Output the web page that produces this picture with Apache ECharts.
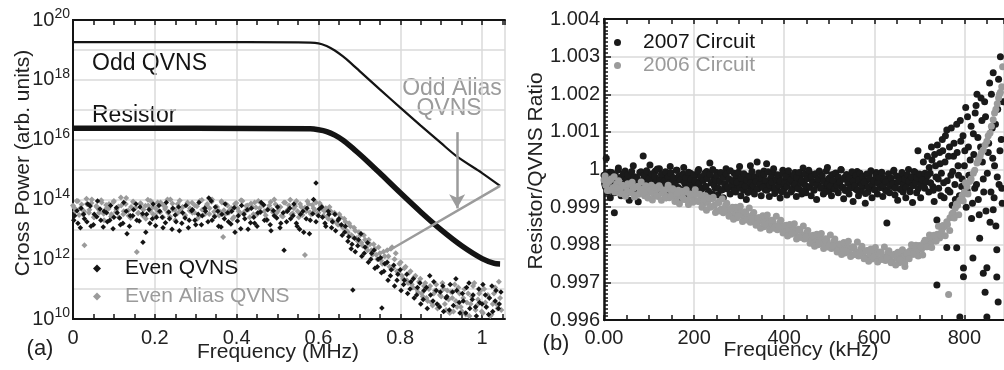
<!DOCTYPE html>
<html><head><meta charset="utf-8">
<script src="https://cdn.jsdelivr.net/npm/echarts@6/dist/echarts.min.js"></script>
<style>html,body{margin:0;padding:0;background:#fff}#c{width:1004px;height:370px}</style>
</head><body><div id="c"></div>
<script>
const FONT = '"Liberation Sans", Arial, Helvetica, sans-serif';
const BLACK = '#141414';
const GREY = '#9b9b9b';

// ---- Panel (a): frequency in MHz, power as log10 exponent ----
const oddQVNS = [[0,19.26],[0.3,19.26],[0.55,19.25],[0.6,19.22],[0.62,19.13],[0.64,18.98],[0.66,18.78],[0.68,18.55],[0.70,18.3],[0.75,17.68],[0.8,17.07],[0.85,16.47],[0.9,15.88],[0.94,15.42],[1.0,14.88],[1.044,14.45]];
const resistor = [[0,16.38],[0.3,16.38],[0.58,16.36],[0.6,16.33],[0.62,16.27],[0.64,16.15],[0.66,15.98],[0.68,15.76],[0.70,15.52],[0.72,15.27],[0.75,14.88],[0.8,14.22],[0.85,13.58],[0.9,12.98],[0.95,12.45],[1.0,12.02],[1.03,11.86],[1.044,11.84]];
const oddAlias = [[0.77,12.3],[0.786,12.4],[1.044,14.45]];
const aliasArrow = [[0.939,16.25],[0.939,13.7]];
const evenQVNS = [[0.004,13.45],[0.012,13.2],[0.020,13.7],[0.028,13.35],[0.036,13.85],[0.044,13.1],[0.052,13.5],[0.060,13.95],[0.068,13.3],[0.076,13.6],[0.084,13.25],[0.092,13.8],[0.100,13.4],[0.108,13.55],[0.116,13.15],[0.124,13.9],[0.132,12.85],[0.140,13.45],[0.148,13.65],[0.156,13.3],[0.164,13.75],[0.171,12.57],[0.180,13.5],[0.188,13.2],[0.196,13.85],[0.204,13.4],[0.212,13.6],[0.220,13.05],[0.228,13.9],[0.236,13.35],[0.244,13.7],[0.252,13.25],[0.260,12.95],[0.268,13.55],[0.276,13.8],[0.284,13.3],[0.292,13.65],[0.300,13.15],[0.308,13.9],[0.316,13.45],[0.324,13.6],[0.332,14.05],[0.340,13.3],[0.348,13.75],[0.356,13.1],[0.364,13.5],[0.372,13.85],[0.380,13.25],[0.388,13.6],[0.396,12.9],[0.404,13.45],[0.412,13.8],[0.420,13.35],[0.428,13.0],[0.436,13.7],[0.444,13.2],[0.452,13.55],[0.460,13.9],[0.468,13.3],[0.476,13.65],[0.484,12.95],[0.492,13.45],[0.500,13.75],[0.508,13.2],[0.516,12.3],[0.524,13.6],[0.532,13.35],[0.540,13.85],[0.548,13.1],[0.556,13.5],[0.564,12.9],[0.572,13.7],[0.580,13.3],[0.588,14.0],[0.594,14.55],[0.600,13.45],[0.608,13.75],[0.616,13.2],[0.624,13.6],[0.632,13.05],[0.640,13.5],[0.648,13.3],[0.656,13.15],[0.664,12.9],[0.672,12.6],[0.680,12.35],[0.684,10.97],[0.688,12.7],[0.696,12.45],[0.704,12.85],[0.712,12.2],[0.720,12.55],[0.728,12.0],[0.736,12.3],[0.744,11.75],[0.752,12.05],[0.755,10.37],[0.760,11.6],[0.768,11.9],[0.776,11.45],[0.784,11.8],[0.792,11.3],[0.800,11.65],[0.808,11.15],[0.816,11.5],[0.824,11.0],[0.832,11.35],[0.840,10.8],[0.848,11.2],[0.856,10.65],[0.864,11.05],[0.872,11.45],[0.880,10.6],[0.888,10.95],[0.896,10.4],[0.904,11.1],[0.912,10.7],[0.920,10.3],[0.928,10.9],[0.936,11.35],[0.944,10.55],[0.952,10.85],[0.960,10.2],[0.968,11.2],[0.976,10.65],[0.984,10.4],[0.992,11.0],[1.000,10.5],[1.008,10.8],[1.016,10.15],[1.024,11.1],[1.032,10.6],[1.040,10.35],[1.046,10.9]];
const evenQVNS2 = [[0.002,13.3],[0.010,13.62],[0.018,13.05],[0.026,13.5],[0.034,13.25],[0.042,13.78],[0.050,13.15],[0.058,13.42],[0.066,13.68],[0.074,13.08],[0.082,13.55],[0.090,13.3],[0.098,13.02],[0.106,13.72],[0.114,13.38],[0.122,13.2],[0.130,13.6],[0.138,13.1],[0.146,13.45],[0.154,13.85],[0.162,13.28],[0.170,13.52],[0.178,12.9],[0.186,13.66],[0.194,13.35],[0.202,13.12],[0.210,13.8],[0.218,13.4],[0.226,13.22],[0.234,13.58],[0.242,13.0],[0.250,13.48],[0.258,13.75],[0.266,13.2],[0.274,13.38],[0.282,13.05],[0.290,13.62],[0.298,13.3],[0.306,13.5],[0.314,13.15],[0.322,13.7],[0.330,13.25],[0.338,13.95],[0.346,13.42],[0.354,13.6],[0.362,13.08],[0.370,13.35],[0.378,13.55],[0.386,13.18],[0.394,13.72],[0.402,13.28],[0.410,13.02],[0.418,13.5],[0.426,13.65],[0.434,13.22],[0.442,13.4],[0.450,13.1],[0.458,13.58],[0.466,13.82],[0.474,13.32],[0.482,13.15],[0.490,13.62],[0.498,13.38],[0.506,13.05],[0.514,13.55],[0.522,13.25],[0.530,13.7],[0.538,13.45],[0.546,13.2],[0.554,13.0],[0.562,13.6],[0.570,13.35],[0.578,12.85],[0.586,13.52],[0.594,13.25],[0.602,13.68],[0.610,13.4],[0.618,13.1],[0.626,13.5],[0.634,13.25],[0.642,12.95],[0.650,13.35],[0.658,12.8],[0.666,13.1],[0.674,12.75],[0.682,12.5],[0.690,12.25],[0.698,12.65],[0.706,12.1],[0.714,12.4],[0.722,11.9],[0.730,12.2],[0.738,11.7],[0.746,12.0],[0.754,11.55],[0.762,11.85],[0.770,11.3],[0.778,11.65],[0.786,11.1],[0.794,11.5],[0.802,10.95],[0.810,11.3],[0.818,10.85],[0.826,11.25],[0.834,10.7],[0.842,11.05],[0.850,10.5],[0.858,10.95],[0.866,10.35],[0.874,10.8],[0.882,11.25],[0.890,10.5],[0.898,10.9],[0.906,10.25],[0.914,10.75],[0.922,11.15],[0.930,10.45],[0.938,10.95],[0.946,10.2],[0.954,10.6],[0.962,11.05],[0.970,10.35],[0.978,10.8],[0.986,10.1],[0.994,10.55],[1.002,11.15],[1.010,10.4],[1.018,10.7],[1.026,10.25],[1.034,10.95],[1.042,10.5]];
const evenAliasQVNS = [[0.000,13.8],[0.006,13.6],[0.012,13.95],[0.018,13.7],[0.024,13.5],[0.028,12.47],[0.034,13.85],[0.040,13.65],[0.046,14.0],[0.052,13.4],[0.058,13.75],[0.064,13.55],[0.070,13.9],[0.076,13.3],[0.082,13.7],[0.088,13.85],[0.094,13.5],[0.100,13.95],[0.106,13.65],[0.112,13.4],[0.118,13.8],[0.124,13.6],[0.130,14.05],[0.136,13.45],[0.142,13.75],[0.148,13.9],[0.156,12.24],[0.160,13.55],[0.166,13.85],[0.172,13.65],[0.178,13.35],[0.184,13.8],[0.190,13.95],[0.196,13.5],[0.202,13.7],[0.208,13.6],[0.214,13.9],[0.220,13.4],[0.226,13.75],[0.232,13.55],[0.238,14.0],[0.244,13.65],[0.250,13.3],[0.256,13.85],[0.262,13.6],[0.268,13.75],[0.274,13.45],[0.280,13.9],[0.286,13.7],[0.292,13.55],[0.298,13.8],[0.304,13.35],[0.310,13.95],[0.316,13.65],[0.322,13.5],[0.328,13.85],[0.334,13.7],[0.340,14.0],[0.346,13.45],[0.352,13.75],[0.358,13.6],[0.364,13.9],[0.367,12.74],[0.372,13.5],[0.378,13.8],[0.384,13.65],[0.390,13.35],[0.396,13.85],[0.402,13.7],[0.408,13.55],[0.414,13.95],[0.420,13.6],[0.426,13.8],[0.432,13.4],[0.438,13.75],[0.444,13.9],[0.450,13.5],[0.456,13.7],[0.462,13.85],[0.468,13.6],[0.474,13.3],[0.480,13.8],[0.486,13.65],[0.492,14.0],[0.498,13.55],[0.504,13.75],[0.510,13.45],[0.516,13.9],[0.522,13.6],[0.528,13.8],[0.534,13.5],[0.540,13.7],[0.546,13.95],[0.552,13.4],[0.558,13.75],[0.567,12.14],[0.570,13.6],[0.576,13.85],[0.582,13.5],[0.588,13.7],[0.594,13.9],[0.600,13.55],[0.606,13.8],[0.612,13.45],[0.618,13.7],[0.624,13.35],[0.630,13.6],[0.636,13.25],[0.642,13.5],[0.648,13.15],[0.654,13.4],[0.660,13.05],[0.666,13.25],[0.672,12.9],[0.678,13.1],[0.684,12.75],[0.690,12.95],[0.696,12.6],[0.702,12.8],[0.708,12.45],[0.714,12.65],[0.720,12.3],[0.726,12.5],[0.732,12.15],[0.738,12.35],[0.744,12.0],[0.750,12.2],[0.756,11.85],[0.762,12.1],[0.768,12.3],[0.774,11.75],[0.780,12.4],[0.786,12.0],[0.792,11.6],[0.798,11.85],[0.804,11.45],[0.810,11.7],[0.816,11.3],[0.822,11.55],[0.828,11.15],[0.834,11.4],[0.840,11.0],[0.846,11.25],[0.852,10.85],[0.858,11.1],[0.864,10.7],[0.870,11.0],[0.876,10.55],[0.882,10.85],[0.888,11.15],[0.894,10.45],[0.900,10.75],[0.906,11.0],[0.912,10.3],[0.918,10.65],[0.924,10.9],[0.930,10.25],[0.936,10.6],[0.942,11.05],[0.948,10.4],[0.954,10.7],[0.960,10.15],[0.966,10.85],[0.972,10.5],[0.978,11.1],[0.984,10.3],[0.990,10.65],[0.996,10.95],[1.002,10.2],[1.008,10.55],[1.014,10.8],[1.020,10.1],[1.026,10.5],[1.032,11.05],[1.038,10.35],[1.044,10.7]];
const evenAliasQVNS2 = [[0.003,13.72],[0.009,13.95],[0.015,13.48],[0.021,13.83],[0.027,13.6],[0.033,14.02],[0.039,13.55],[0.045,13.88],[0.051,13.4],[0.057,13.78],[0.063,13.66],[0.069,13.97],[0.075,13.52],[0.081,13.81],[0.087,13.69],[0.093,13.43],[0.099,13.91],[0.105,13.58],[0.111,13.76],[0.117,14.06],[0.123,13.5],[0.129,13.85],[0.135,13.63],[0.141,13.38],[0.147,13.93],[0.153,13.71],[0.159,13.54],[0.165,13.87],[0.171,13.45],[0.177,13.79],[0.183,13.99],[0.189,13.61],[0.195,13.74],[0.201,13.47],[0.207,13.9],[0.213,13.57],[0.219,13.82],[0.225,13.68],[0.231,14.0],[0.237,13.42],[0.243,13.86],[0.249,13.65],[0.255,13.53],[0.261,13.96],[0.267,13.73],[0.273,13.49],[0.279,13.84],[0.285,13.62],[0.291,13.89],[0.297,13.56],[0.303,13.77],[0.309,13.44],[0.315,13.98],[0.321,13.67],[0.327,13.8],[0.333,13.51],[0.339,13.92],[0.345,13.59],[0.351,13.75],[0.357,13.46],[0.363,13.94],[0.369,13.64],[0.375,13.83],[0.381,13.55],[0.387,13.7],[0.393,13.4],[0.399,13.88],[0.405,13.6],[0.411,13.97],[0.417,13.52],[0.423,13.78],[0.429,13.66],[0.435,13.86],[0.441,13.5],[0.447,13.73],[0.453,13.95],[0.459,13.58],[0.465,13.8],[0.471,13.47],[0.477,13.69],[0.483,13.91],[0.489,13.56],[0.495,13.84],[0.501,13.62],[0.507,13.75],[0.513,13.43],[0.519,13.89],[0.525,13.65],[0.531,13.99],[0.537,13.53],[0.543,13.77],[0.549,13.6],[0.555,13.85],[0.561,13.48],[0.567,13.72],[0.573,13.94],[0.579,13.57],[0.585,13.81],[0.591,13.64],[0.597,13.5],[0.603,13.87],[0.609,13.68],[0.615,13.6],[0.621,13.42],[0.627,13.75],[0.633,13.3],[0.639,13.55],[0.645,13.2],[0.651,13.5],[0.657,13.1],[0.663,13.35],[0.669,12.95],[0.675,13.2],[0.681,12.8],[0.687,13.05],[0.693,12.7],[0.699,12.9],[0.705,12.55],[0.711,12.8],[0.717,12.4],[0.723,12.65],[0.729,12.3],[0.735,12.5],[0.741,12.15],[0.747,12.4],[0.753,11.95],[0.759,12.25],[0.765,11.85],[0.771,12.1],[0.777,12.35],[0.783,11.7],[0.789,12.2],[0.795,11.55],[0.801,11.9],[0.807,11.35],[0.813,11.75],[0.819,11.2],[0.825,11.6],[0.831,11.05],[0.837,11.45],[0.843,10.9],[0.849,11.35],[0.855,10.75],[0.861,11.2],[0.867,10.6],[0.873,11.1],[0.879,10.45],[0.885,10.95],[0.891,10.35],[0.897,10.8],[0.903,11.2],[0.909,10.5],[0.915,10.95],[0.921,10.2],[0.927,10.7],[0.933,11.15],[0.939,10.4],[0.945,10.85],[0.951,10.25],[0.957,11.0],[0.963,10.55],[0.969,10.1],[0.975,10.75],[0.981,11.2],[0.987,10.45],[0.993,10.85],[0.999,10.25],[1.005,11.0],[1.011,10.4],[1.017,10.7],[1.023,10.15],[1.029,10.85],[1.035,10.5],[1.041,11.25],[1.047,10.3]];

// ---- Panel (b): frequency in kHz, Resistor/QVNS ratio ----
const circuit2007 = [[0,0.99985],[3,0.99955],[5,1.00030],[8,0.99940],[11,0.99972],[14,0.99925],[17,0.99992],[20,0.99950],[23,0.99885],[26,0.99978],[29,0.99945],[32,1.00004],[35,0.99962],[38,0.99930],[41,0.99982],[44,0.99948],[47,0.99996],[50,0.99936],[53,0.99970],[56,0.99918],[59,0.99986],[62,0.99955],[65,1.00010],[68,0.99940],[71,0.99976],[76,0.99914],[79,0.99960],[82,0.99994],[85,0.99946],[87,1.00036],[90,0.99972],[93,0.99930],[96,0.99985],[99,0.99956],[102,1.00012],[105,0.99942],[108,0.99976],[111,0.99962],[114,0.99996],[117,0.99932],[120,0.99966],[123,1.00002],[126,0.99950],[129,0.99984],[132,0.99938],[135,0.99972],[138,0.99925],[141,0.99990],[144,0.99958],[147,1.00008],[150,0.99944],[153,0.99978],[156,0.99935],[159,0.99968],[162,0.99998],[165,0.99952],[168,0.99920],[171,0.99982],[174,0.99946],[177,1.00005],[180,0.99962],[183,0.99936],[186,0.99975],[189,0.99950],[192,0.99990],[195,0.99930],[198,0.99965],[201,0.99945],[204,0.99985],[207,0.99958],[210,1.00000],[213,0.99940],[216,0.99972],[219,0.99928],[222,0.99980],[225,0.99955],[228,0.99995],[231,0.99938],[235,1.00017],[238,0.99965],[241,0.99935],[244,0.99978],[247,0.99950],[250,0.99992],[253,0.99932],[256,0.99968],[259,0.99945],[262,0.99985],[265,0.99925],[268,0.99960],[271,1.00002],[274,0.99948],[277,0.99975],[280,0.99935],[283,0.99970],[286,0.99952],[289,0.99990],[292,0.99940],[295,0.99978],[298,0.99958],[301,1.00008],[304,0.99930],[307,0.99965],[310,0.99945],[313,0.99985],[316,0.99920],[319,0.99972],[322,0.99955],[325,1.00010],[328,0.99942],[331,0.99978],[334,0.99935],[337,0.99968],[340,1.00020],[343,0.99950],[346,0.99985],[349,0.99930],[352,0.99962],[355,0.99996],[358,0.99946],[361,1.00015],[364,0.99958],[367,0.99928],[370,0.99975],[373,0.99950],[376,0.99990],[379,0.99936],[382,0.99970],[385,0.99945],[388,0.99982],[391,0.99924],[394,0.99962],[397,0.99998],[400,0.99948],[403,0.99976],[406,0.99932],[409,0.99966],[412,0.99985],[415,0.99940],[418,0.99975],[421,0.99955],[424,0.99992],[427,0.99928],[430,0.99965],[433,0.99948],[436,0.99982],[439,0.99935],[442,1.00004],[445,0.99960],[448,0.99938],[451,0.99976],[454,0.99952],[457,0.99990],[460,0.99930],[463,0.99968],[466,0.99945],[469,0.99985],[472,0.99920],[475,0.99960],[478,0.99996],[481,0.99950],[484,0.99975],[487,0.99935],[490,0.99970],[493,0.99956],[496,1.00005],[499,0.99942],[502,0.99978],[505,0.99930],[508,0.99962],[511,0.99988],[514,0.99948],[517,0.99972],[520,0.99938],[523,0.99965],[526,1.00000],[529,0.99952],[532,0.99922],[535,0.99980],[538,0.99945],[541,0.99970],[544,0.99935],[547,0.99985],[550,0.99958],[553,0.99915],[556,0.99975],[559,0.99948],[562,0.99995],[565,0.99930],[568,0.99965],[571,0.99942],[574,0.99982],[577,0.99955],[580,0.99910],[583,0.99970],[586,0.99940],[589,0.99988],[592,0.99950],[595,0.99925],[598,0.99972],[601,0.99946],[604,0.99992],[607,0.99935],[610,0.99968],[613,0.99952],[616,0.99985],[619,0.99928],[622,0.99962],[625,0.99945],[628,0.99858],[631,0.99978],[634,0.99938],[637,0.99970],[640,0.99955],[643,0.99995],[646,0.99932],[649,0.99965],[652,0.99918],[655,0.99980],[658,0.99948],[661,0.99972],[664,0.99940],[667,0.99985],[670,0.99925],[673,0.99962],[676,1.00000],[679,0.99945],[682,0.99975],[685,0.99912],[688,0.99960],[691,0.99992],[694,0.99938],[697,1.00050],[700,0.99970],[703,0.99925],[706,0.99985],[709,1.00020],[712,0.99950],[715,0.99978],[718,1.00035],[721,0.99940],[724,0.99990],[727,1.00060],[730,0.99955],[733,0.99915],[736,1.00010],[739,0.99866],[739,0.99693],[742,0.99975],[745,1.00045],[748,0.99930],[751,1.00080],[754,0.99965],[757,1.00020],[761,0.99793],[761,1.00105],[764,0.99945],[767,1.00060],[770,0.99985],[773,0.99905],[776,1.00035],[779,0.99960],[783,0.99792],[783,1.00120],[786,1.00010],[789,0.99930],[790,0.99608],[792,1.00075],[795,0.99975],[798,0.99738],[798,0.99715],[801,1.00050],[804,0.99900],[807,1.00140],[810,0.99985],[813,1.00025],[816,0.99870],[819,0.99765],[820,1.00095],[823,0.99950],[826,1.00170],[828,1.00200],[831,0.99920],[834,0.99817],[836,1.00060],[839,1.00130],[842,0.99724],[842,0.99975],[845,1.00180],[846,0.99674],[848,0.99890],[850,0.99608],[850,0.99739],[853,1.00045],[856,1.00230],[859,0.99940],[862,1.00110],[864,0.99893],[864,1.00257],[867,1.00010],[870,0.99850],[872,0.99714],[872,0.99787],[874,1.00160],[875,0.99648],[877,0.99960],[880,1.00300],[882,1.00080],[884,0.99910]];
const circuit2007b = [[1.5,0.99962],[4.5,0.99988],[7.5,0.99947],[10.5,0.99975],[13.5,0.99993],[16.5,0.99955],[19.5,0.99970],[22.5,0.99938],[25.5,0.99984],[28.5,0.99966],[31.5,0.99999],[34.5,0.99951],[37.5,0.99979],[40.5,0.99960],[43.5,0.99990],[46.5,0.99944],[49.5,0.99973],[52.5,0.99986],[55.5,0.99957],[58.5,0.99968],[61.5,0.99995],[64.5,0.99949],[67.5,0.99981],[70.5,0.99964],[73.5,0.99977],[76.5,0.99940],[79.5,0.99992],[82.5,0.99958],[85.5,0.99971],[88.5,0.99985],[91.5,0.99953],[94.5,0.99997],[97.5,0.99963],[100.5,0.99976],[103.5,0.99946],[106.5,0.99989],[109.5,0.99959],[112.5,0.99982],[115.5,0.99967],[118.5,1.00001],[121.5,0.99950],[124.5,0.99974],[127.5,0.99987],[130.5,0.99956],[133.5,0.99969],[136.5,0.99994],[139.5,0.99943],[142.5,0.99980],[145.5,0.99965],[148.5,0.99991],[151.5,0.99954],[154.5,0.99978],[157.5,0.99961],[160.5,0.99998],[163.5,0.99948],[166.5,0.99983],[169.5,0.99972],[172.5,0.99935],[175.5,0.99988],[178.5,0.99966],[181.5,0.99979],[184.5,0.99952],[187.5,0.99993],[190.5,0.99960],[193.5,0.99974],[196.5,0.99945],[199.5,0.99986],[202.5,0.99969],[205.5,0.99957],[208.5,0.99996],[211.5,0.99963],[214.5,0.99981],[217.5,0.99949],[220.5,0.99971],[223.5,0.99990],[226.5,0.99955],[229.5,0.99976],[232.5,0.99942],[235.5,0.99987],[238.5,0.99965],[241.5,1.00000],[244.5,0.99958],[247.5,0.99973],[250.5,0.99984],[253.5,0.99951],[256.5,0.99968],[259.5,0.99992],[262.5,0.99946],[265.5,0.99979],[268.5,0.99962],[271.5,0.99988],[274.5,0.99954],[277.5,0.99975],[280.5,0.99997],[283.5,0.99961],[286.5,0.99970],[289.5,0.99944],[292.5,0.99985],[295.5,0.99966],[298.5,0.99993],[301.5,0.99950],[304.5,0.99977],[307.5,0.99960],[310.5,0.99989],[313.5,0.99956],[316.5,0.99972],[319.5,0.99939],[322.5,0.99983],[325.5,0.99964],[328.5,0.99995],[331.5,0.99957],[334.5,0.99980],[337.5,0.99968],[340.5,0.99948],[343.5,0.99991],[346.5,0.99962],[349.5,0.99976],[352.5,0.99953],[355.5,0.99987],[358.5,0.99971],[361.5,0.99945],[364.5,0.99994],[367.5,0.99959],[370.5,0.99978],[373.5,0.99966],[376.5,1.00002],[379.5,0.99952],[382.5,0.99974],[385.5,0.99986],[388.5,0.99958],[391.5,0.99969],[394.5,0.99941],[397.5,0.99990],[400.5,0.99963],[403.5,0.99982],[406.5,0.99955],[409.5,0.99997],[412.5,0.99967],[415.5,0.99973],[418.5,0.99947],[421.5,0.99985],[424.5,0.99961],[427.5,0.99979],[430.5,0.99950],[433.5,0.99992],[436.5,0.99964],[439.5,0.99970],[442.5,0.99943],[445.5,0.99988],[448.5,0.99957],[451.5,0.99976],[454.5,0.99998],[457.5,0.99954],[460.5,0.99981],[463.5,0.99965],[466.5,0.99946],[469.5,0.99989],[472.5,0.99960],[475.5,0.99974],[478.5,0.99993],[481.5,0.99952],[484.5,0.99983],[487.5,0.99968],[490.5,0.99940],[493.5,0.99996],[496.5,0.99962],[499.5,0.99977],[502.5,0.99956],[505.5,0.99986],[508.5,0.99971],[511.5,0.99948],[514.5,0.99991],[517.5,0.99958],[520.5,0.99980],[523.5,0.99966],[526.5,0.99999],[529.5,0.99953],[532.5,0.99975],[535.5,0.99944],[538.5,0.99987],[541.5,0.99963],[544.5,0.99978],[547.5,0.99951],[550.5,0.99994],[553.5,0.99969],[556.5,0.99957],[559.5,0.99984],[562.5,0.99945],[565.5,0.99972],[568.5,0.99990],[571.5,0.99959],[574.5,0.99981],[577.5,0.99967],[580.5,0.99936],[583.5,0.99988],[586.5,0.99954],[589.5,0.99976],[592.5,0.99997],[595.5,0.99961],[598.5,0.99970],[601.5,0.99946],[604.5,0.99985],[607.5,0.99964],[610.5,0.99979],[613.5,0.99952],[616.5,0.99993],[619.5,0.99958],[622.5,0.99974],[625.5,0.99968],[628.5,0.99942],[631.5,0.99989],[634.5,0.99956],[637.5,0.99977],[640.5,0.99962],[643.5,0.99998],[646.5,0.99950],[649.5,0.99983],[652.5,0.99966],[655.5,0.99971],[658.5,0.99947],[661.5,0.99992],[664.5,0.99960],[667.5,0.99975],[670.5,0.99953],[673.5,0.99986],[676.5,0.99969],[679.5,0.99941],[682.5,0.99980],[685.5,0.99957],[688.5,0.99995],[691.5,0.99965],[694.5,0.99978],[697.5,0.99949],[700.5,0.99988],[703.5,0.99961],[706.5,0.99973],[709.5,0.99955],[712.5,0.99990],[715.5,0.99967],[718.5,0.99984],[722,1.00005],[725,0.99965],[728,1.00025],[731,0.99945],[734,1.00040],[737,0.99980],[740,1.00065],[743,0.99950],[746,1.00015],[749,0.99990],[752,1.00050],[755,0.99925],[758,1.00090],[762,0.99970],[765,1.00035],[768,0.99940],[771,1.00110],[774,0.99995],[777,1.00070],[780,0.99920],[784,1.00045],[787,0.99985],[791,1.00130],[794,0.99955],[797,1.00090],[800,1.00010],[803,1.00165],[806,0.99945],[809,1.00060],[812,0.99985],[815,1.00115],[818,0.99910],[821,1.00040],[824,1.00150],[827,0.99960],[830,1.00085],[833,0.99880],[837,1.00190],[840,1.00020],[843,0.99940],[847,1.00140],[851,0.99990],[854,1.00070],[857,0.99860],[860,1.00200],[863,1.00030],[866,0.99925],[869,1.00120],[873,0.99980],[876,1.00240],[879,1.00050],[883,0.99950],[886,1.00180]];
const circuit2006 = [[0,0.99972],[4,0.99958],[8,0.99965],[12,0.99945],[16,0.99975],[20,0.99952],[24,0.99940],[28,0.99962],[32,0.99948],[36,0.99945],[40,0.99958],[44,0.99935],[48,0.99955],[52,0.99942],[56,0.99960],[60,0.99938],[65,0.99950],[70,0.99932],[75,0.99955],[80,0.99940],[85,0.99948],[90,0.99930],[95,0.99952],[100,0.99940],[105,0.99958],[110,0.99935],[115,0.99945],[120,0.99928],[125,0.99950],[130,0.99938],[135,0.99932],[140,0.99948],[145,0.99925],[150,0.99940],[155,0.99935],[160,0.99920],[165,0.99945],[170,0.99930],[175,0.99925],[180,0.99940],[185,0.99918],[190,0.99935],[195,0.99928],[200,0.99920],[205,0.99935],[210,0.99915],[215,0.99925],[220,0.99908],[225,0.99930],[230,0.99912],[235,0.99900],[240,0.99922],[245,0.99905],[250,0.99890],[255,0.99912],[260,0.99895],[265,0.99885],[270,0.99905],[275,0.99890],[280,0.99878],[285,0.99900],[290,0.99885],[295,0.99872],[300,0.99890],[305,0.99880],[310,0.99868],[315,0.99885],[320,0.99875],[325,0.99860],[330,0.99880],[335,0.99868],[340,0.99855],[345,0.99872],[350,0.99862],[355,0.99848],[360,0.99868],[365,0.99855],[370,0.99845],[375,0.99862],[380,0.99850],[385,0.99840],[390,0.99858],[395,0.99845],[400,0.99835],[405,0.99852],[410,0.99840],[415,0.99828],[420,0.99845],[425,0.99832],[430,0.99820],[435,0.99838],[440,0.99825],[445,0.99815],[450,0.99832],[455,0.99818],[460,0.99808],[465,0.99825],[470,0.99812],[475,0.99800],[480,0.99818],[485,0.99805],[490,0.99795],[495,0.99812],[500,0.99800],[505,0.99790],[510,0.99808],[515,0.99795],[520,0.99785],[525,0.99800],[530,0.99790],[535,0.99778],[540,0.99795],[545,0.99785],[550,0.99772],[555,0.99792],[560,0.99780],[565,0.99770],[570,0.99788],[575,0.99776],[580,0.99765],[585,0.99785],[590,0.99772],[595,0.99762],[600,0.99782],[605,0.99770],[610,0.99760],[615,0.99780],[620,0.99768],[625,0.99758],[630,0.99778],[635,0.99765],[640,0.99755],[645,0.99775],[650,0.99765],[655,0.99752],[660,0.99772],[665,0.99762],[668,0.99742],[672,0.99778],[676,0.99768],[680,0.99785],[685,0.99775],[690,0.99792],[695,0.99782],[700,0.99798],[705,0.99788],[710,0.99805],[715,0.99795],[720,0.99812],[725,0.99802],[730,0.99818],[735,0.99810],[740,0.99828],[745,0.99818],[750,0.99838],[755,0.99848],[761,0.99861],[765,0.99668],[768,0.99872],[775,0.99885],[780,0.99898],[785,0.99905],[790,0.99918],[795,0.99930],[800,0.99940],[806,0.99955],[812,0.99968],[820,0.99990],[828,1.00017],[835,1.00035],[842,1.00052],[850,1.00075],[857,1.00097],[864,1.00132],[870,1.00160],[876,1.00190],[880,1.00205],[883,1.00220],[885,1.00273]];
const circuit2006b = [[2.5,0.99983],[7.5,0.99944],[12.5,0.99970],[17.5,0.99948],[22.5,0.99981],[27.5,0.99951],[32.5,0.99970],[37.5,0.99936],[42.5,0.99956],[47.5,0.99929],[52.5,0.99962],[57.5,0.99940],[62.5,0.99966],[67.5,0.99927],[72.5,0.99954],[77.5,0.99934],[82.5,0.99967],[87.5,0.99938],[92.5,0.99957],[97.5,0.99924],[102.5,0.99946],[107.5,0.99919],[112.5,0.99952],[117.5,0.99931],[122.5,0.99957],[127.5,0.99918],[132.5,0.99945],[137.5,0.99925],[142.5,0.99958],[147.5,0.99929],[152.5,0.99949],[157.5,0.99915],[162.5,0.99936],[167.5,0.99909],[172.5,0.99942],[177.5,0.99920],[182.5,0.99946],[187.5,0.99907],[192.5,0.99934],[197.5,0.99913],[202.5,0.99946],[207.5,0.99916],[212.5,0.99934],[217.5,0.99900],[222.5,0.99920],[227.5,0.99892],[232.5,0.99924],[237.5,0.99901],[242.5,0.99926],[247.5,0.99886],[252.5,0.99912],[257.5,0.99890],[262.5,0.99922],[267.5,0.99892],[272.5,0.99910],[277.5,0.99876],[282.5,0.99896],[287.5,0.99868],[292.5,0.99900],[297.5,0.99877],[302.5,0.99902],[307.5,0.99862],[312.5,0.99888],[317.5,0.99866],[322.5,0.99898],[327.5,0.99868],[332.5,0.99886],[337.5,0.99852],[342.5,0.99872],[347.5,0.99844],[352.5,0.99877],[357.5,0.99854],[362.5,0.99879],[367.5,0.99839],[372.5,0.99865],[377.5,0.99844],[382.5,0.99876],[387.5,0.99846],[392.5,0.99865],[397.5,0.99831],[402.5,0.99851],[407.5,0.99823],[412.5,0.99854],[417.5,0.99831],[422.5,0.99856],[427.5,0.99815],[432.5,0.99841],[437.5,0.99819],[442.5,0.99850],[447.5,0.99820],[452.5,0.99838],[457.5,0.99804],[462.5,0.99824],[467.5,0.99796],[472.5,0.99828],[477.5,0.99805],[482.5,0.99830],[487.5,0.99790],[492.5,0.99816],[497.5,0.99794],[502.5,0.99826],[507.5,0.99797],[512.5,0.99815],[517.5,0.99781],[522.5,0.99802],[527.5,0.99774],[532.5,0.99806],[537.5,0.99783],[542.5,0.99809],[547.5,0.99769],[552.5,0.99795],[557.5,0.99774],[562.5,0.99807],[567.5,0.99777],[572.5,0.99796],[577.5,0.99763],[582.5,0.99784],[587.5,0.99756],[592.5,0.99789],[597.5,0.99767],[602.5,0.99793],[607.5,0.99754],[612.5,0.99781],[617.5,0.99761],[622.5,0.99794],[627.5,0.99765],[632.5,0.99784],[637.5,0.99752],[642.5,0.99773],[647.5,0.99746],[652.5,0.99780],[657.5,0.99760],[662.5,0.99787],[667.5,0.99750],[672.5,0.99779],[677.5,0.99763],[682.5,0.99800],[687.5,0.99775],[692.5,0.99799],[697.5,0.99770],[702.5,0.99795],[707.5,0.99773],[712.5,0.99812],[717.5,0.99795],[722.5,0.99826],[727.5,0.99793],[732.5,0.99825],[737.5,0.99810],[742.5,0.99849],[747.5,0.99826],[752.5,0.99851],[757.5,0.99824],[762.5,0.99854],[767.5,0.99838],[772.5,0.99882],[777.5,0.99871],[782.5,0.99908],[787.5,0.99880],[792.5,0.99920],[797.5,0.99916],[802.5,0.99965],[808,0.99935],[815,0.99975],[823,0.99998],[831,1.00025],[838,1.00045],[846,1.00065],[853,1.00090],[860,1.00115],[867,1.00150],[873,1.00175],[878,1.00200]];

const toPow = arr => arr.map(p => [p[0], Math.pow(10, p[1])]);

const tickTxt = {fontSize: 20, color: '#222', fontFamily: FONT};
const lineBlack = {color: BLACK, width: 2};
const tickStyle = {color: BLACK, width: 1.5};
const gridLine = {show: true, lineStyle: {color: '#dadada', width: 1.5}};

const chart = echarts.init(document.getElementById('c'), null, {renderer: 'canvas'});
chart.setOption({
  animation: false,
  backgroundColor: '#fff',
  grid: [
    {left: 73, top: 20, width: 432, height: 299},
    {left: 604, top: 19, width: 400, height: 301}
  ],
  xAxis: [
    {gridIndex: 0, type: 'value', position: 'bottom', min: 0, max: 1.056, interval: 0.05,
     axisLine: {lineStyle: lineBlack}, splitLine: {show: false},
     axisTick: {inside: true, length: 5, lineStyle: tickStyle},
     axisLabel: Object.assign({margin: 9, showMaxLabel: false,
       formatter: v => { const r = Math.round(v * 100); return r % 20 === 0 ? String(r / 100) : ''; }}, tickTxt)},
    {gridIndex: 0, type: 'value', position: 'top', min: 0, max: 1.056, interval: 0.05,
     axisLine: {lineStyle: lineBlack}, splitLine: {show: false},
     axisTick: {inside: true, length: 5, lineStyle: tickStyle}, axisLabel: {show: false}},
    {gridIndex: 0, type: 'value', position: 'bottom', min: 0, max: 1.056, interval: 0.2,
     axisLine: {show: false}, axisTick: {show: false}, axisLabel: {show: false}, splitLine: gridLine},
    {gridIndex: 1, type: 'value', position: 'bottom', min: 0, max: 888, interval: 50,
     axisLine: {lineStyle: lineBlack}, splitLine: {show: false},
     axisTick: {inside: true, length: 5, lineStyle: tickStyle},
     axisLabel: Object.assign({margin: 8, showMaxLabel: false,
       formatter: v => v === 0 ? '0.00' : (v % 200 === 0 ? String(v) : '')}, tickTxt)},
    {gridIndex: 1, type: 'value', position: 'top', min: 0, max: 888, interval: 50,
     axisLine: {lineStyle: lineBlack}, splitLine: {show: false},
     axisTick: {inside: true, length: 5, lineStyle: tickStyle}, axisLabel: {show: false}},
    {gridIndex: 1, type: 'value', position: 'bottom', min: 0, max: 888, interval: 200,
     axisLine: {show: false}, axisTick: {show: false}, axisLabel: {show: false}, splitLine: gridLine}
  ],
  yAxis: [
    {gridIndex: 0, type: 'log', logBase: 10, min: 1e10, max: 1e20, interval: 1, position: 'left',
     axisLine: {lineStyle: lineBlack}, axisTick: {show: false},
     splitLine: gridLine,
     axisLabel: {margin: 3,
       formatter: v => { const e = Math.round(Math.log10(v)); return e % 2 === 0 ? '{b|10}{s|' + e + '}' : ''; },
       rich: {b: {fontSize: 20, color: '#222', fontFamily: FONT},
              s: {fontSize: 14, color: '#222', fontFamily: FONT, verticalAlign: 'bottom', padding: [0, 0, 11, 0]}}}},
    {gridIndex: 0, type: 'log', logBase: 10, min: 1e10, max: 1e20, interval: 1, position: 'right',
     axisLine: {lineStyle: lineBlack}, axisTick: {show: false}, splitLine: {show: false}, axisLabel: {show: false}},
    {gridIndex: 1, type: 'value', min: 0.996, max: 1.004, interval: 0.001, position: 'left',
     axisLine: {lineStyle: {color: BLACK, width: 2.5}},
     axisTick: {inside: true, length: 7, lineStyle: tickStyle},
     minorTick: {show: true, splitNumber: 10, length: 4, lineStyle: tickStyle},
     splitLine: gridLine,
     axisLabel: Object.assign({margin: 4, formatter: v => String(+v.toFixed(3))}, tickTxt)}
  ],
  legend: [
    {left: 93, top: 258, orient: 'vertical', padding: 0, itemWidth: 8, itemHeight: 8, itemGap: 7, selectedMode: false,
     textStyle: {fontSize: 21, fontFamily: FONT, lineHeight: 21, padding: [0, 0, 0, 19]},
     data: [{name: 'Even QVNS', textStyle: {color: BLACK}}, {name: 'Even Alias QVNS', textStyle: {color: GREY}}]},
    {left: 614, top: 32, orient: 'vertical', padding: 0, itemWidth: 7, itemHeight: 7, itemGap: 2, selectedMode: false,
     textStyle: {fontSize: 21, fontFamily: FONT, lineHeight: 21, padding: [0, 0, 0, 17]},
     data: [{name: '2007 Circuit', textStyle: {color: BLACK}}, {name: '2006 Circuit', textStyle: {color: GREY}}]}
  ],
  series: [
    {name: 'Even Alias QVNS', type: 'scatter', xAxisIndex: 0, yAxisIndex: 0, symbol: 'diamond', symbolSize: 6,
     itemStyle: {color: GREY, opacity: 1}, data: toPow(evenAliasQVNS.concat(evenAliasQVNS2)), z: 2},
    {name: 'Even QVNS', type: 'scatter', xAxisIndex: 0, yAxisIndex: 0, symbol: 'diamond', symbolSize: 5.5,
     itemStyle: {color: BLACK, opacity: 1}, data: toPow(evenQVNS.concat(evenQVNS2)), z: 3},
    {name: 'Odd QVNS', type: 'line', xAxisIndex: 0, yAxisIndex: 0, showSymbol: false, smooth: 0.3,
     lineStyle: {color: BLACK, width: 2.2}, data: toPow(oddQVNS), z: 4},
    {name: 'Resistor', type: 'line', xAxisIndex: 0, yAxisIndex: 0, showSymbol: false, smooth: 0.3,
     lineStyle: {color: BLACK, width: 5.5}, data: toPow(resistor), z: 4},
    {name: 'Odd Alias QVNS', type: 'line', xAxisIndex: 0, yAxisIndex: 0, showSymbol: false,
     lineStyle: {color: GREY, width: 2.5}, data: toPow(oddAlias), z: 4,
     markLine: {silent: true, symbol: ['none', 'arrow'], symbolSize: [12, 14], label: {show: false},
       lineStyle: {color: GREY, width: 2.5, type: 'solid'},
       data: [[{coord: [aliasArrow[0][0], Math.pow(10, aliasArrow[0][1])]}, {coord: [aliasArrow[1][0], Math.pow(10, aliasArrow[1][1])]}]]}},
    {name: '2007 Circuit', type: 'scatter', xAxisIndex: 3, yAxisIndex: 2, symbol: 'circle', symbolSize: 7,
     itemStyle: {color: '#1a1a1a', opacity: 1}, data: circuit2007.concat(circuit2007b), z: 2},
    {name: '2006 Circuit', type: 'scatter', xAxisIndex: 3, yAxisIndex: 2, symbol: 'circle', symbolSize: 7,
     itemStyle: {color: GREY, opacity: 1}, data: circuit2006.concat(circuit2006b), z: 3}
  ],
  graphic: [
    {type: 'text', x: 92, y: 64, style: {text: 'Odd QVNS', fontSize: 23, fontFamily: FONT, fill: BLACK, align: 'left', verticalAlign: 'middle'}},
    {type: 'text', x: 92, y: 116, style: {text: 'Resistor', fontSize: 23, fontFamily: FONT, fill: BLACK, align: 'left', verticalAlign: 'middle'}},
    {type: 'text', x: 452, y: 89, style: {text: 'Odd Alias', fontSize: 23, fontFamily: FONT, fill: GREY, align: 'center', verticalAlign: 'middle'}},
    {type: 'text', x: 449, y: 109, style: {text: 'QVNS', fontSize: 23, fontFamily: FONT, fill: GREY, align: 'center', verticalAlign: 'middle'}},
    {type: 'text', x: 278, y: 352, style: {text: 'Frequency (MHz)', fontSize: 21, fontFamily: FONT, fill: '#222', align: 'center', verticalAlign: 'middle'}},
    {type: 'text', x: 801, y: 350, style: {text: 'Frequency (kHz)', fontSize: 21, fontFamily: FONT, fill: '#222', align: 'center', verticalAlign: 'middle'}},
    {type: 'text', x: 23, y: 163, rotation: Math.PI / 2, style: {text: 'Cross Power (arb. units)', fontSize: 21, fontFamily: FONT, fill: '#222', align: 'center', verticalAlign: 'middle'}},
    {type: 'text', x: 536, y: 171, rotation: Math.PI / 2, style: {text: 'Resistor/QVNS Ratio', fontSize: 21, fontFamily: FONT, fill: '#222', align: 'center', verticalAlign: 'middle'}},
    {type: 'text', x: 40, y: 349, style: {text: '(a)', fontSize: 22, fontFamily: FONT, fill: '#222', align: 'center', verticalAlign: 'middle'}},
    {type: 'text', x: 556, y: 344, style: {text: '(b)', fontSize: 22, fontFamily: FONT, fill: '#222', align: 'center', verticalAlign: 'middle'}}
  ]
});
</script></body></html>
